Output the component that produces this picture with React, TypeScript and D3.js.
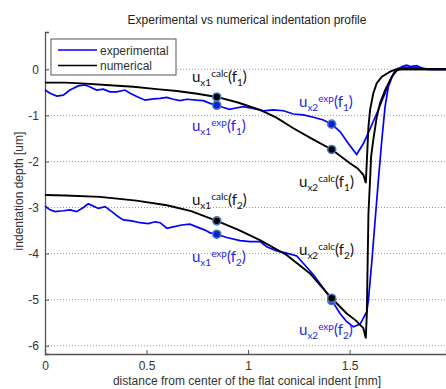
import React, { useEffect, useRef } from 'react';
import * as d3 from 'd3';

// experimental / numerical profiles, [distance mm, depth um]
const expF1: [number, number][] = [
  [0, -0.45], [0.025, -0.52], [0.058, -0.58], [0.09, -0.56], [0.123, -0.45], [0.164, -0.36],
  [0.197, -0.34], [0.22, -0.38], [0.254, -0.45], [0.287, -0.43], [0.32, -0.49], [0.353, -0.49],
  [0.394, -0.45], [0.419, -0.52], [0.452, -0.59], [0.493, -0.67], [0.534, -0.64], [0.567, -0.63],
  [0.6, -0.61], [0.632, -0.65], [0.665, -0.68], [0.698, -0.65], [0.747, -0.67], [0.78, -0.68],
  [0.813, -0.74], [0.846, -0.78], [0.879, -0.83], [0.91, -0.87], [0.928, -0.85], [0.977, -0.81],
  [1.025, -0.85], [1.075, -0.9], [1.125, -0.88], [1.174, -0.9], [1.223, -0.97], [1.272, -0.99],
  [1.322, -1.04], [1.371, -1.1], [1.412, -1.19], [1.453, -1.35], [1.494, -1.61], [1.535, -1.85],
  [1.568, -1.61], [1.584, -1.46], [1.634, -0.96], [1.675, -0.52], [1.708, -0.16], [1.73, -0.02],
  [1.76, 0.06], [1.78, 0.09], [1.8, 0.06], [1.83, 0.08], [1.86, 0.02], [1.9, 0], [1.98, 0],
];

const numF1: [number, number][] = [
  [0, -0.29], [0.1, -0.29], [0.2, -0.31], [0.3, -0.34], [0.435, -0.38], [0.55, -0.43],
  [0.65, -0.47], [0.75, -0.53], [0.846, -0.6], [0.95, -0.72], [1.059, -0.88], [1.14, -1.05],
  [1.223, -1.28], [1.32, -1.52], [1.412, -1.74], [1.502, -2.04], [1.54, -2.15], [1.568, -2.29],
  [1.58, -2.47], [1.593, -1.25], [1.601, -0.88], [1.617, -0.52], [1.634, -0.3], [1.659, -0.16],
  [1.7, -0.05], [1.73, 0], [1.98, 0],
];

const expF2: [number, number][] = [
  [0, -2.97], [0.025, -3.05], [0.049, -3.09], [0.09, -3.07], [0.123, -3.05], [0.156, -3.09],
  [0.189, -3.0], [0.213, -2.92], [0.238, -2.97], [0.263, -3.02], [0.296, -2.98], [0.329, -3.09],
  [0.361, -3.2], [0.386, -3.27], [0.427, -3.29], [0.468, -3.33], [0.509, -3.35], [0.542, -3.31],
  [0.567, -3.33], [0.6, -3.45], [0.632, -3.42], [0.673, -3.38], [0.714, -3.36], [0.747, -3.42],
  [0.788, -3.49], [0.813, -3.55], [0.846, -3.58], [0.895, -3.65], [0.961, -3.72], [1.01, -3.74],
  [1.059, -3.74], [1.092, -3.85], [1.141, -3.94], [1.19, -3.99], [1.24, -4.05], [1.272, -4.21],
  [1.322, -4.46], [1.371, -4.75], [1.412, -5.01], [1.453, -5.3], [1.486, -5.48], [1.519, -5.59],
  [1.552, -5.53], [1.585, -5.26], [1.593, -5.0], [1.609, -4.21], [1.626, -3.27], [1.642, -2.4],
  [1.659, -1.53], [1.675, -0.81], [1.691, -0.38], [1.716, -0.09], [1.74, 0.02], [1.77, 0.05],
  [1.8, 0.03], [1.84, 0.04], [1.88, 0], [1.98, 0],
];

const numF2: [number, number][] = [
  [0, -2.73], [0.1, -2.74], [0.271, -2.77], [0.45, -2.85], [0.6, -2.95], [0.72, -3.08],
  [0.846, -3.29], [0.95, -3.48], [1.059, -3.71], [1.19, -4.03], [1.305, -4.43], [1.412, -4.97],
  [1.486, -5.3], [1.53, -5.45], [1.568, -5.62], [1.58, -5.84], [1.585, -5.3], [1.593, -3.13],
  [1.601, -2.4], [1.606, -1.9], [1.617, -1.53], [1.634, -1.03], [1.65, -0.74], [1.675, -0.45],
  [1.708, -0.16], [1.732, -0.03], [1.75, 0], [1.98, 0],
];

// marked points u_x1 / u_x2
const markersCalc: [number, number][] = [[0.846, -0.6], [1.412, -1.74], [0.846, -3.29], [1.412, -4.97]];
const markersExp: [number, number][] = [[0.846, -0.78], [1.412, -1.19], [0.846, -3.58], [1.412, -5.02]];

// annotation: [x, y, sub, sup, f index, kind]
const annotations: [number, number, string, string, string, string][] = [
  [0.724, -0.28, 'x1', 'calc', '1', 'calc'],
  [0.724, -1.34, 'x1', 'exp', '1', 'exp'],
  [1.251, -0.82, 'x2', 'exp', '1', 'exp'],
  [1.251, -2.55, 'x2', 'calc', '1', 'calc'],
  [0.724, -2.95, 'x1', 'calc', '2', 'calc'],
  [0.724, -4.18, 'x1', 'exp', '2', 'exp'],
  [1.251, -4.03, 'x2', 'calc', '2', 'calc'],
  [1.251, -5.77, 'x2', 'exp', '2', 'exp'],
];

const xTicks = [0, 0.5, 1, 1.5];
const yTicks = [0, -1, -2, -3, -4, -5, -6];
const legendItems = ['experimental', 'numerical'];

const W = 446;
const H = 389;

const App = () => {
  const svgRef = useRef(null);

  useEffect(() => {
    const svg = d3.select(svgRef.current);
    svg.selectAll('*').remove();

    const x = d3.scaleLinear().domain([0, 1.975]).range([45, 446]);
    const y = d3.scaleLinear().domain([-6.18, 0.81]).range([354, 32]);
    const font = 'Liberation Sans, Arial, sans-serif';

    svg.append('rect').attr('width', W).attr('height', H).attr('fill', '#fff');

    // grid
    svg
      .append('g')
      .selectAll('line')
      .data(yTicks)
      .enter()
      .append('line')
      .attr('x1', x(0))
      .attr('x2', W)
      .attr('y1', (d) => y(d))
      .attr('y2', (d) => y(d))
      .attr('stroke', '#999')
      .attr('stroke-dasharray', '1,2');

    // axes
    const yAxis = svg
      .append('g')
      .attr('transform', `translate(${x(0)},0)`)
      .call(d3.axisLeft(y).tickValues(yTicks).tickSize(-4).tickPadding(6).tickFormat((d) => String(d)));
    const xAxis = svg
      .append('g')
      .attr('transform', `translate(0,${y.range()[0]})`)
      .call(d3.axisBottom(x).tickValues(xTicks).tickSize(-4).tickPadding(7).tickFormat((d) => String(d)));
    [yAxis, xAxis].forEach((g) => {
      g.select('.domain').attr('stroke', '#555').attr('stroke-width', 1.3);
      g.selectAll('.tick line').attr('stroke', '#555');
      g.selectAll('.tick text').attr('fill', '#333').attr('font-size', 12).attr('font-family', font);
    });

    const line = d3
      .line<[number, number]>()
      .x((d) => x(d[0]))
      .y((d) => y(d[1]));

    [expF1, expF2].forEach((s) => {
      svg.append('path').datum(s).attr('fill', 'none').attr('stroke', '#0000ff').attr('stroke-width', 1.7).attr('d', line);
    });
    [numF1, numF2].forEach((s) => {
      svg.append('path').datum(s).attr('fill', 'none').attr('stroke', '#000').attr('stroke-width', 1.9).attr('d', line);
    });

    // markers
    const drawMarkers = (pts: [number, number][], fill: string) => {
      svg
        .append('g')
        .selectAll('circle')
        .data(pts)
        .enter()
        .append('circle')
        .attr('cx', (d) => x(d[0]))
        .attr('cy', (d) => y(d[1]))
        .attr('r', 4)
        .attr('fill', fill)
        .attr('stroke', '#4a7ebb')
        .attr('stroke-width', 1.6);
    };
    drawMarkers(markersExp, '#0a1fd8');
    drawMarkers(markersCalc, '#000');

    // annotations u_x^calc(f)
    annotations.forEach(([ax, ay, sub, sup, f, kind]) => {
      const t = svg
        .append('text')
        .attr('x', x(ax))
        .attr('y', y(ay))
        .attr('font-family', 'Lato, "Open Sans", sans-serif')
        .attr('font-size', 15)
        .attr('fill', kind === 'exp' ? '#1f1fe6' : '#111');
      t.append('tspan').text('u');
      t.append('tspan').attr('font-size', 10).attr('dy', 4).text(sub);
      t.append('tspan').attr('font-size', 10).attr('dy', -9).text(sup);
      t.append('tspan').attr('dy', 5).text('(f');
      t.append('tspan').attr('font-size', 10).attr('dy', 4).text(f);
      t.append('tspan').attr('dy', -4).text(')');
    });

    // legend
    const lg = svg.append('g');
    lg.append('rect').attr('x', 51).attr('y', 39).attr('width', 125).attr('height', 36).attr('fill', '#fff').attr('stroke', '#555');
    legendItems.forEach((name, i) => {
      const ly = 50 + i * 15.5;
      lg.append('line').attr('x1', 58).attr('x2', 97).attr('y1', ly).attr('y2', ly)
        .attr('stroke', i === 0 ? '#0000ff' : '#000').attr('stroke-width', 1.7);
      lg.append('text').attr('x', 100).attr('y', ly + 4.5).attr('font-family', font).attr('font-size', 12)
        .attr('fill', '#333').text(name);
    });

    // title & axis labels
    svg.append('text').attr('x', 247).attr('y', 24).attr('text-anchor', 'middle').attr('font-family', font)
      .attr('font-size', 12).attr('fill', '#222').text('Experimental vs numerical indentation profile');
    svg.append('text').attr('x', 247).attr('y', 385).attr('text-anchor', 'middle').attr('font-family', font)
      .attr('font-size', 12).attr('fill', '#333').text('distance from center of the flat conical indent [mm]');
    svg.append('text').attr('transform', 'translate(23,191) rotate(-90)').attr('text-anchor', 'middle')
      .attr('font-family', font).attr('font-size', 12).attr('fill', '#333').text('indentation depth [um]');
  }, []);

  return (
    <div style={{ position: 'absolute', left: 0, top: 0 }}>
      <svg ref={svgRef} width={W} height={H} style={{ display: 'block' }}></svg>
    </div>
  );
};

export default App;
